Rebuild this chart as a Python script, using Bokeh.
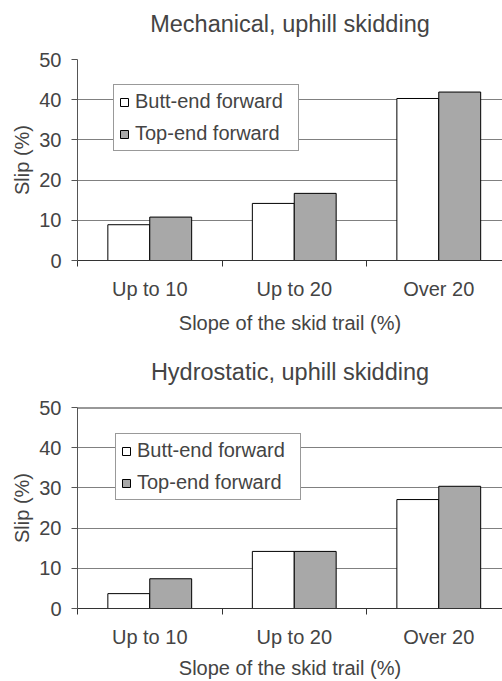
from bokeh.plotting import figure
from bokeh.models import ColumnDataSource, Range1d, FixedTicker, Legend, LegendItem, Span
from bokeh.layouts import column
from bokeh.embed import file_html
from bokeh.resources import INLINE

categories = ["Up to 10", "Up to 20", "Over 20"]
series_names = ["Butt-end forward", "Top-end forward"]
mech_butt = [8.9, 14.2, 40.3]
mech_top = [10.8, 16.7, 41.9]
hydro_butt = [3.7, 14.2, 27.1]
hydro_top = [7.4, 14.2, 30.4]
y_ticks = [0, 10, 20, 30, 40, 50]
titles = ["Mechanical, uphill skidding", "Hydrostatic, uphill skidding"]
x_label = "Slope of the skid trail (%)"
y_label = "Slip (%)"

FONT = "Liberation Sans"
BAR_W = 0.29


def make_chart(title, butt, top, height, border_bottom, leg_loc, label_standoff, top_span, shift):
    centers = [i + 0.5 for i in range(len(categories))]
    src = ColumnDataSource(dict(
        xb=[c - BAR_W / 2 for c in centers],
        xt=[c + BAR_W / 2 for c in centers],
        butt=butt, top=top,
    ))
    p = figure(width=502, height=height, output_backend="svg", toolbar_location=None,
               x_range=Range1d(0, 2.941), y_range=Range1d(0, 50),
               min_border_left=77, min_border_right=0,
               min_border_top=40, min_border_bottom=border_bottom,
               margin=(shift, 0, 0, 0))
    p.outline_line_color = None
    p.background_fill_color = "white"
    p.border_fill_color = "white"

    p.title.text = title
    p.title.text_font = FONT
    p.title.text_font_size = "23.5px"
    p.title.text_font_style = "normal"
    p.title.align = "center"
    p.title.standoff = 46

    rb = p.vbar(x="xb", top="butt", width=BAR_W, bottom=0, source=src,
                fill_color="white", line_color="black", line_width=1)
    rt = p.vbar(x="xt", top="top", width=BAR_W, bottom=0, source=src,
                fill_color="#a8a8a8", line_color="black", line_width=1)

    # grid
    p.xgrid.visible = False
    p.ygrid.ticker = FixedTicker(ticks=y_ticks)
    p.ygrid.grid_line_color = "#808080"
    p.ygrid.grid_line_width = 1.2
    if top_span:
        p.add_layout(Span(location=50, dimension="width", line_color="#333333", line_width=2))

    # y axis
    ya = p.yaxis[0]
    ya.ticker = FixedTicker(ticks=y_ticks)
    ya.axis_label = y_label
    ya.axis_label_text_font = FONT
    ya.axis_label_text_font_size = "20px"
    ya.axis_label_text_font_style = "normal"
    ya.axis_label_standoff = 3
    ya.major_label_text_font = FONT
    ya.major_label_text_font_size = "20px"
    ya.major_label_standoff = 10
    ya.major_tick_in = 0
    ya.major_tick_out = 6
    ya.minor_tick_line_color = None
    ya.axis_line_color = "#555555"
    ya.major_tick_line_color = "#555555"

    # x axis
    xa = p.xaxis[0]
    xa.ticker = FixedTicker(ticks=centers, minor_ticks=[0, 1, 2, 3])
    xa.major_label_overrides = {c: lab for c, lab in zip(centers, categories)}
    xa.major_tick_line_color = None
    xa.minor_tick_in = 0
    xa.minor_tick_out = 6
    xa.minor_tick_line_color = "#333333"
    xa.axis_line_color = "#333333"
    xa.major_label_text_font = FONT
    xa.major_label_text_font_size = "20px"
    xa.major_label_standoff = 11
    xa.axis_label = x_label
    xa.axis_label_text_font = FONT
    xa.axis_label_text_font_size = "20px"
    xa.axis_label_text_font_style = "normal"
    xa.axis_label_standoff = label_standoff

    legend = Legend(items=[LegendItem(label=series_names[0], renderers=[rb]),
                           LegendItem(label=series_names[1], renderers=[rt])],
                    location=leg_loc)
    legend.label_text_font = FONT
    legend.label_text_font_size = "20px"
    legend.glyph_width = 10
    legend.glyph_height = 10
    legend.label_standoff = 6
    legend.label_width = 158
    legend.padding = 5
    legend.spacing = 9
    legend.margin = 0
    legend.border_line_color = "#333333"
    legend.border_line_width = 1
    legend.background_fill_alpha = 1
    p.add_layout(legend, "center")
    return p


p1 = make_chart(titles[0], mech_butt, mech_top, 355, 80, (36, 109), 9, False, -15)
p2 = make_chart(titles[1], hydro_butt, hydro_top, 348, 73, (38, 108), 6, True, -7)

layout = column(p1, p2, spacing=0)
open("out.html", "w").write(file_html(layout, INLINE))
